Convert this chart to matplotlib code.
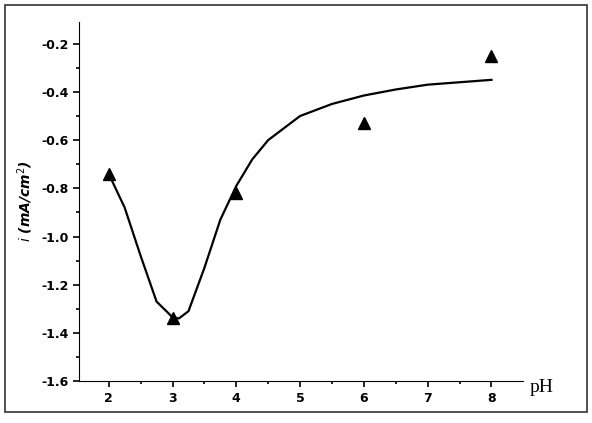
import matplotlib.pyplot as plt
from matplotlib.patches import Rectangle
from matplotlib.ticker import MultipleLocator

# measured points
ph_pts = [2, 3, 4, 6, 8]
i_pts = [-0.74, -1.34, -0.82, -0.53, -0.25]

# fitted curve
ph_fit = [2, 2.25, 2.5, 2.75, 3, 3.1, 3.25, 3.5, 3.75, 4, 4.25, 4.5, 5, 5.5, 6, 6.5, 7, 7.5, 8]
i_fit = [-0.74, -0.88, -1.08, -1.27, -1.335, -1.34, -1.31, -1.13, -0.93, -0.79,
         -0.68, -0.6, -0.5, -0.45, -0.415, -0.39, -0.37, -0.36, -0.35]

fig = plt.figure(figsize=(5.92, 4.23), dpi=100)
ax = fig.add_axes([0.133, 0.099, 0.75, 0.849])

ax.plot(ph_fit, i_fit, color='black', lw=1.6)
ax.plot(ph_pts, i_pts, linestyle='', marker='^', color='black', markersize=8)

ax.set_xlim(1.53, 8.49)
ax.set_ylim(-1.6, -0.11)
ax.xaxis.set_major_locator(MultipleLocator(1))
ax.xaxis.set_minor_locator(MultipleLocator(0.5))
ax.yaxis.set_minor_locator(MultipleLocator(0.1))
ax.set_yticks([-1.6, -1.4, -1.2, -1.0, -0.8, -0.6, -0.4, -0.2])
ax.set_yticklabels(['-1.6', '-1.4', '-1.2', '-1.0', '-0.8', '-0.6', '-0.4', '-0.2'])
ax.spines['top'].set_visible(False)
ax.spines['right'].set_visible(False)
ax.tick_params(direction='out', width=1.2, length=4, labelsize=9)
ax.tick_params(which='minor', direction='out', width=1.2, length=2.5)
for lab in ax.get_xticklabels() + ax.get_yticklabels():
    lab.set_fontweight('bold')

ax.set_ylabel(r'$i$ (mA/cm$^2$)', fontsize=10, fontstyle='italic', fontweight='bold')
fig.text(0.895, 0.085, 'pH', fontsize=14, family='Liberation Serif', ha='left', va='center')

fig.patches.append(Rectangle((0.008, 0.025), 0.984, 0.963, transform=fig.transFigure,
                             fill=False, edgecolor='#333333', lw=1.2))

plt.savefig('out.png')
